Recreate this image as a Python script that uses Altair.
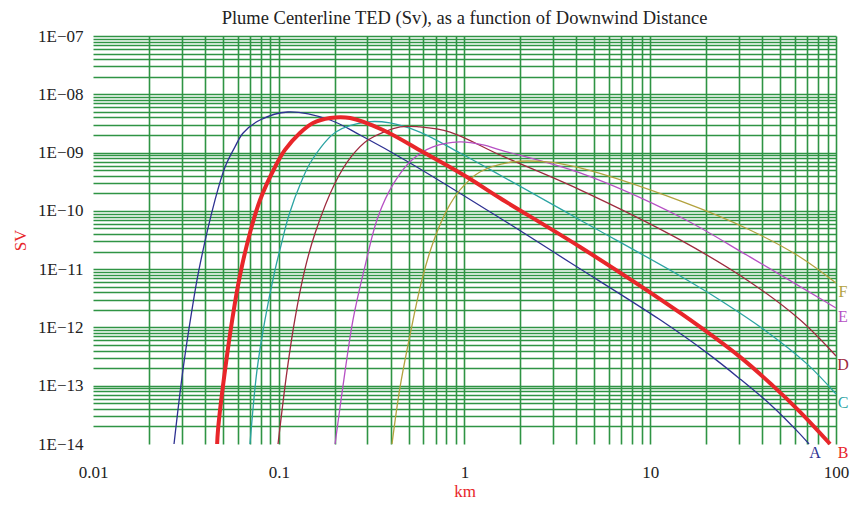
import altair as alt
import pandas as pd

# ---- data (km, Sv) ----
A_km = [0.0273, 0.0305, 0.0341, 0.0372, 0.0454, 0.0514, 0.0581, 0.0643, 0.0793, 0.112, 0.189, 0.274, 0.509, 1.55, 3.70, 11.3, 20.2, 30.4, 45.8, 61.7, 71.6]
A_sv = [1e-14, 1.87e-13, 2.0e-12, 9.8e-12, 1.54e-10, 5.66e-10, 1.25e-9, 2.17e-9, 3.62e-9, 4.97e-9, 3.62e-9, 2.0e-9, 6.64e-10, 7.55e-11, 1.30e-11, 1.35e-12, 3.66e-13, 1.31e-13, 4.33e-14, 1.68e-14, 1e-14]

B_km = [0.0466, 0.0471, 0.0514, 0.0581, 0.0627, 0.0700, 0.0793, 0.0955, 0.108, 0.130, 0.153, 0.189, 0.242, 0.364, 0.598, 1.03, 1.55, 4.19, 14.5, 30.4, 45.8, 64.0, 92.9]
B_sv = [1e-14, 1.75e-14, 1.87e-13, 2.63e-12, 9.68e-12, 4.18e-11, 1.54e-10, 5.66e-10, 1.11e-9, 2.17e-9, 3.22e-9, 3.92e-9, 3.92e-9, 2.44e-9, 1.02e-9, 3.81e-10, 1.66e-10, 2.40e-11, 1.77e-12, 3.12e-13, 9.93e-14, 3.56e-14, 1e-14]

C_km = [0.0700, 0.0764, 0.0843, 0.0955, 0.103, 0.1135, 0.132, 0.151, 0.203, 0.299, 0.397, 0.575, 0.946, 1.55, 4.19, 14.5, 23.7, 42.6, 69.8, 100]
C_sv = [1e-14, 1.87e-13, 1.35e-12, 9.68e-12, 2.60e-11, 8.51e-11, 3.13e-10, 7.46e-10, 2.25e-9, 3.35e-9, 3.22e-9, 2.25e-9, 9.84e-10, 4.13e-10, 6.98e-11, 7.64e-12, 2.96e-12, 8.38e-13, 2.37e-13, 7.22e-14]

D_km = [0.0991, 0.111, 0.122, 0.138, 0.157, 0.201, 0.245, 0.302, 0.450, 0.575, 0.836, 1.55, 4.19, 14.5, 34.4, 64.0, 100]
D_sv = [1e-14, 1.87e-13, 1.35e-12, 9.68e-12, 4.18e-11, 3.01e-10, 8.41e-10, 1.64e-9, 2.75e-9, 2.75e-9, 2.25e-9, 9.10e-10, 2.29e-10, 3.17e-11, 6.03e-12, 1.35e-12, 3.24e-13]

E_km = [0.201, 0.228, 0.251, 0.288, 0.342, 0.417, 0.521, 0.676, 0.946, 1.26, 1.55, 4.19, 14.5, 34.4, 100]
E_sv = [1e-14, 1.87e-13, 1.35e-12, 9.68e-12, 7.85e-11, 3.01e-10, 7.46e-10, 1.25e-9, 1.52e-9, 1.35e-9, 1.11e-9, 4.47e-10, 7.85e-11, 1.62e-11, 2.16e-12]

F_km = [0.407, 0.450, 0.509, 0.590, 0.676, 0.805, 0.946, 1.21, 1.82, 2.78, 4.19, 14.5, 34.4, 64.0, 100]
F_sv = [1e-14, 9.53e-14, 7.41e-13, 6.53e-12, 2.81e-11, 1.04e-10, 2.29e-10, 4.65e-10, 6.90e-10, 6.90e-10, 5.44e-10, 1.48e-10, 4.70e-11, 1.62e-11, 5.79e-12]

curve_names = ["A", "B", "C", "D", "E", "F"]
curve_colors = ["#2e3192", "#e8262a", "#2ba3a3", "#9e2a3e", "#b650c4", "#b3a23e"]

title_text = "Plume Centerline TED (Sv), as a function of Downwind Distance"
x_title = "km"
y_title = "SV"

# ---- build tables ----
series = {"A": (A_km, A_sv), "B": (B_km, B_sv), "C": (C_km, C_sv),
          "D": (D_km, D_sv), "E": (E_km, E_sv), "F": (F_km, F_sv)}
rows = []
for name, (kms, svs) in series.items():
    for i, (k, s) in enumerate(zip(kms, svs)):
        rows.append({"curve": name, "km": k, "sv": s, "order": i})
df = pd.DataFrame(rows)
ends = pd.DataFrame([{"curve": n, "km": series[n][0][-1], "sv": series[n][1][-1]} for n in curve_names])

mult = [1, 2, 3, 4, 5, 6, 7, 8, 9]
x_ticks = [m * 10.0 ** e for e in range(-2, 2) for m in mult] + [100.0]
y_ticks = [m * 10.0 ** e for e in range(-14, -7) for m in mult] + [1e-7]

GREEN = "#2f9444"
RED = "#e8262a"
FONT = "Liberation Serif"

is_decade = "abs(log(datum.value)/LN10 - round(log(datum.value)/LN10)) < 0.001"

x_scale = alt.Scale(type="log", domain=[0.01, 100], nice=False)
y_scale = alt.Scale(type="log", domain=[1e-14, 1e-7], nice=False)

x_axis = alt.Axis(
    values=x_ticks, grid=True, gridColor=GREEN, gridWidth=1.6,
    gridOpacity={"condition": {"test": "datum.value < 0.015", "value": 0}, "value": 1},
    ticks=False, domain=False, labelOverlap=False, labelFlush=False,
    labelExpr=f"{is_decade} ? format(datum.value, '~g') : ''",
    labelFont=FONT, labelFontSize=17, labelColor="#222", labelPadding=20,
    title=x_title, titleFont=FONT, titleFontSize=17, titleFontWeight="normal",
    titleColor=RED, titlePadding=3,
)
y_axis = alt.Axis(
    values=y_ticks, grid=True, gridColor=GREEN, gridWidth=1.6,
    gridOpacity={"condition": {"test": "datum.value < 1.5e-14", "value": 0}, "value": 1},
    ticks=False, domain=False, labelOverlap=False, labelFlush=False,
    labelExpr=f"{is_decade} ? '1E\u2212' + (round(-log(datum.value)/LN10) < 10 ? '0' : '') + round(-log(datum.value)/LN10) : ''",
    labelFont=FONT, labelFontSize=17, labelColor="#222", labelPadding=10,
    title=y_title, titleFont=FONT, titleFontSize=17, titleFontWeight="normal",
    titleColor=RED, titlePadding=8,
)

color_scale = alt.Scale(domain=curve_names, range=curve_colors)

base = alt.Chart(df).encode(
    x=alt.X("km:Q", scale=x_scale, axis=x_axis),
    y=alt.Y("sv:Q", scale=y_scale, axis=y_axis),
    color=alt.Color("curve:N", scale=color_scale, legend=None),
    order="order:Q",
)

thin = base.transform_filter("datum.curve != 'B'").mark_line(strokeWidth=1.3, interpolate="catmull-rom")
thick = base.transform_filter("datum.curve == 'B'").mark_line(strokeWidth=4, interpolate="catmull-rom")

lab_enc = dict(
    x=alt.X("km:Q", scale=x_scale),
    y=alt.Y("sv:Q", scale=y_scale),
    text="curve:N",
    color=alt.Color("curve:N", scale=color_scale, legend=None),
)
lab_a = alt.Chart(ends).transform_filter("datum.curve == 'A'").mark_text(
    font=FONT, fontSize=16, dx=6, dy=9, align="center", baseline="middle").encode(**lab_enc)
lab_b = alt.Chart(ends).transform_filter("datum.curve == 'B'").mark_text(
    font=FONT, fontSize=16, dx=13, dy=9, align="center", baseline="middle").encode(**lab_enc)
lab_rest = alt.Chart(ends).transform_filter("indexof(['C','D','E','F'], datum.curve) >= 0").mark_text(
    font=FONT, fontSize=16, dx=7, dy=9, align="center", baseline="middle").encode(**lab_enc)

chart = alt.layer(thin, thick, lab_a, lab_b, lab_rest).properties(
    width=743, height=408,
    autosize=alt.AutoSizeParams(type="none"),
    padding={"left": 93, "top": 36, "right": 14, "bottom": 67},
    title=alt.TitleParams(title_text, font=FONT, fontSize=18.5, fontWeight="normal",
                          color="#222", offset=0, anchor="middle"),
    background="white",
).configure_view(strokeWidth=0)

chart.save("out.html", embed_options={"renderer": "svg", "actions": False})
